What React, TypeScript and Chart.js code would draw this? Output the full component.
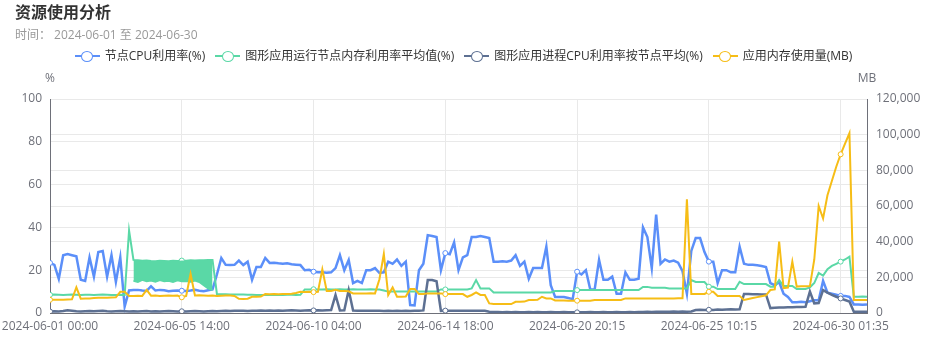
import React, { useEffect, useRef } from 'react';
import { Chart, registerables } from 'chart.js';

Chart.register(...registerables);

const tickLabels = [
  '2024-06-01 00:00',
  '2024-06-05 14:00',
  '2024-06-10 04:00',
  '2024-06-14 18:00',
  '2024-06-20 20:15',
  '2024-06-25 10:15',
  '2024-06-30 01:35',
];
const tickEvery = 30;

const seriesNames = [
  '节点CPU利用率(%)',
  '图形应用运行节点内存利用率平均值(%)',
  '图形应用进程CPU利用率按节点平均(%)',
  '应用内存使用量(MB)',
];

// 节点CPU利用率(%)
const cpuNode = [
  23.4, 22.5, 16, 27, 27.5, 27, 26.5, 15.5, 15, 26,
  17, 28.5, 29, 17, 27, 14.5, 26, 3, 10.5, 10.7,
  10.8, 10.5, 10.3, 12.5, 10.5, 10.8, 10.6, 10.2, 10.4, 10.5,
  10.4, 10.3, 10.5, 10.8, 10.4, 10.2, 10.6, 11, 18, 25.7,
  22.5, 22.4, 22.5, 24.5, 22.4, 24, 15.5, 21.5, 21.5, 25.7,
  23.4, 23.5, 23.2, 23, 23.2, 22.8, 22.6, 22.4, 20, 20.2,
  19.3, 19, 19, 18.8, 19, 21, 27, 20, 24.8, 14,
  15, 14, 20, 20, 21, 18.7, 19, 24, 23, 25,
  22, 24, 3.7, 3.5, 20, 23, 36.4, 36, 35.5, 20,
  28, 27.5, 33, 20, 26, 27, 35.5, 35.5, 36, 35.5,
  35, 24, 24, 24.2, 24, 24.5, 27, 22, 24, 16,
  21, 21, 21, 31, 13, 7.5, 7.5, 7.5, 7, 6.5,
  19.3, 18, 20, 11, 11, 24.8, 15.5, 15.5, 17, 9,
  9, 19, 15.5, 15.5, 16, 40, 35.5, 21, 46, 23,
  25, 24, 24.5, 23.5, 19.5, 9, 29, 35, 35, 28.5,
  24, 24, 14, 20, 20, 19, 19, 31, 23, 22.5,
  22.5, 22.3, 22, 21.5, 14, 13, 14.5, 9, 7.5, 5,
  5, 5.2, 5, 5.5, 6, 6, 15, 9.5, 9, 8.5,
  8, 8, 7.5, 4, 4, 3.8, 4,
];

// 图形应用运行节点内存利用率平均值(%) — upper trace of the series
const memNodeAvg = [
  8.5, 8.6, 8.5, 8.4, 8.5, 8.6, 8.5, 8.4, 8.5, 8.5,
  8.4, 8.5, 8.6, 8.5, 8.4, 8.4, 8.5, 8.4, 38.5, 24.8,
  24.6, 24.4, 24.5, 24.3, 24.2, 24.4, 24.3, 24.2, 24.4, 24.3,
  24.5, 24.4, 24.6, 24.5, 24.6, 24.7, 24.8, 24.8, 8.9, 8.8,
  8.8, 8.7, 8.7, 8.6, 8.6, 8.5, 8.5, 8.4, 8.4, 8.4,
  8.4, 8.5, 8.4, 8.4, 8.5, 8.5, 8.4, 8.5, 11, 11,
  11.1, 11, 11, 11.1, 11, 11, 11.1, 11, 11, 11.1,
  11, 11, 11, 11.1, 11, 11, 10.5, 10, 10, 10,
  10, 10, 10, 10, 10.1, 10, 10, 10, 10, 11,
  11, 11, 11, 11, 11, 11, 11.5, 15.4, 11.5, 11.5,
  11.5, 9.6, 9.6, 9.6, 9.6, 9.6, 9.6, 9.6, 9.6, 9.6,
  9.6, 9.6, 9.6, 9.6, 9.6, 10.3, 10.3, 10.3, 10.3, 10.3,
  10.7, 10.7, 10.7, 10.7, 10.7, 10.7, 10.7, 10.7, 10.7, 10.7,
  10.7, 10.7, 10.7, 10.7, 10.7, 12.2, 12.2, 11.8, 11.8, 11.8,
  11.8, 11.5, 11.5, 11.5, 11.5, 11.5, 15.4, 14.5, 14.5, 14.5,
  12.3, 12.3, 11.2, 11.2, 11.2, 11.2, 11.2, 14.6, 13.5, 13.5,
  13.5, 13.5, 13.5, 13.5, 12.3, 12.3, 15.4, 12.6, 12.6, 12.6,
  11.2, 11.2, 11.2, 12, 14, 18.7, 17.5, 20.5, 22, 23,
  24, 25, 26.3, 7.6, 7.6, 7.7, 7.6,
];

// lower trace of the same series where it oscillates densely (06-03 to 06-06)
const memNodeAvgLow = [
  null, null, null, null, null, null, null, null, null, null,
  null, null, null, null, null, null, null, null, null, 15,
  14.5, 15.5, 14.8, 15.2, 14.6, 15.4, 14.9, 15.1, 14.5, 15.3,
  14.8, 15, 14.6, 15.2, 14.5, 13, 11.5, 10.7, null, null,
];

// 图形应用进程CPU利用率按节点平均(%)
const cpuApp = [
  0.7, 0.8, 0.7, 0.9, 1.3, 1.1, 0.8, 0.7, 0.8, 0.9,
  0.8, 0.9, 1.0, 0.8, 0.7, 0.8, 0.9, 0.8, 0.7, 0.8,
  0.7, 0.8, 0.9, 0.7, 0.8, 0.7, 0.8, 0.9, 0.8, 0.7,
  0.8, 0.7, 0.8, 0.9, 0.8, 0.7, 0.8, 0.9, 0.8, 0.9,
  1.0, 0.9, 1.0, 1.1, 1.0, 0.9, 1.0, 1.1, 1.2, 1.1,
  1.2, 1.1, 1.2, 1.1, 1.2, 1.3, 1.2, 1.1, 1.2, 1.3,
  1.2, 1.3, 1.2, 1.3, 1.4, 8.4, 1.2, 1.3, 10.7, 1.2,
  1.1, 1.0, 1.1, 1.0, 1.1, 1.0, 0.9, 1.0, 0.9, 1.0,
  0.9, 1.0, 0.9, 1.0, 1.0, 1.2, 15.4, 15.4, 14.8, 1.0,
  1.1, 1.0, 1.1, 1.0, 1.1, 1.0, 1.1, 1.0, 1.0, 1.0,
  0.6, 0.5, 0.5, 0.4, 0.5, 0.4, 0.5, 0.4, 0.4, 0.5,
  0.4, 0.5, 0.4, 0.4, 0.5, 0.4, 0.4, 0.5, 0.4, 0.4,
  0.3, 0.4, 0.4, 0.5, 0.4, 0.4, 0.5, 0.4, 0.4, 0.5,
  0.4, 0.4, 0.5, 0.4, 0.5, 0.5, 0.6, 0.5, 0.6, 0.6,
  0.6, 0.6, 0.7, 0.6, 0.7, 0.6, 0.7, 1.4, 1.5, 1.4,
  1.5, 1.4, 1.6, 1.5, 1.6, 1.7, 1.6, 1.7, 8.9, 8.9,
  8.8, 8.8, 8.7, 8.7, 2.3, 2.5, 2.6, 2.6, 2.7, 2.7,
  2.8, 2.8, 2.9, 10, 4.5, 4.6, 10.7, 9.5, 8.5, 7.6,
  6.8, 6.1, 5.4, 0.6, 0.6, 0.6, 0.6,
];

// 应用内存使用量(MB)
const memApp = [
  7400, 7400, 7500, 7500, 7600, 7700, 14400, 8000, 8100, 8200,
  8400, 8600, 8500, 8600, 8700, 8800, 11900, 11900, 9500, 9600,
  9700, 9600, 12900, 9700, 9800, 9600, 9700, 9800, 9700, 9800,
  8800, 9500, 21900, 9800, 9900, 9800, 9700, 9800, 9500, 9700,
  9800, 9800, 9600, 8000, 7800, 8000, 9100, 9100, 9200, 10600,
  10500, 10600, 10500, 10600, 10600, 10800, 11200, 11900, 11800, 11900,
  11700, 11900, 24500, 12300, 12300, 13000, 12300, 12300, 12200, 11000,
  11000, 11000, 11000, 11100, 11000, 18900, 33100, 10100, 14400, 9100,
  9100, 9200, 13500, 13500, 10600, 10600, 11000, 11000, 11000, 11000,
  10600, 10600, 10600, 10600, 10600, 9100, 10100, 11500, 10100, 10100,
  5400, 5000, 5000, 5000, 5100, 5000, 6300, 6300, 6400, 7300,
  7300, 7400, 9100, 8200, 8200, 7000, 7000, 7000, 6900, 6900,
  6900, 6900, 6900, 6900, 7300, 7300, 7300, 7300, 7300, 7300,
  7300, 8200, 8200, 8200, 8200, 8200, 8200, 8200, 8200, 8200,
  8200, 8200, 8200, 8300, 8300, 63700, 10600, 10600, 10700, 10700,
  11900, 11900, 9500, 9500, 9500, 9500, 9500, 9500, 7300, 7900,
  8400, 8900, 9400, 9900, 12900, 13200, 40000, 14000, 14300, 28800,
  14800, 15000, 15000, 15100, 30000, 60000, 53000, 66000, 74000, 82000,
  89000, 95000, 100800, 7300, 7300, 7300, 7300,
];

const COLORS = ['#5B8FF9', '#5AD8A6', '#5D7092', '#F6BD16'];
const FONT = '"Open Sans", "Noto Sans CJK SC", sans-serif';
const AXIS_COLOR = '#6E7079';
const GRID_COLOR = '#E9E9E9';
const LABEL_COLOR = '#6E7079';

function LegendIcon({ color }: { color: string }) {
  return (
    <span style={{ position: 'relative', display: 'inline-block', width: 25, height: 14, marginRight: 5 }}>
      <span style={{ position: 'absolute', left: 0, top: 6, width: 25, height: 2, background: color }} />
      <span
        style={{
          position: 'absolute', left: 6.5, top: 1.5, width: 12, height: 11, boxSizing: 'border-box',
          border: `1.5px solid ${color}`, borderRadius: '50%', background: '#fff',
        }}
      />
    </span>
  );
}

export default function App() {
  const ref = useRef<HTMLCanvasElement>(null);

  useEffect(() => {
    if (!ref.current) return;
    const labels = cpuNode.map((_, i) => i);
    const lastIndex = cpuNode.length - 1;
    const mk = (label: string, data: (number | null)[], color: string, axis: string, order: number, width: number) => ({
      label,
      data,
      borderColor: color,
      backgroundColor: color,
      yAxisID: axis,
      order,
      borderWidth: width,
      tension: 0,
      fill: false,
      pointRadius: (c: any) => (c.dataIndex % tickEvery === 0 ? 2.5 : 0),
      pointBackgroundColor: '#fff',
      pointBorderColor: color,
      pointBorderWidth: 1,
    });
    const bandLow = {
      ...mk(seriesNames[1], memNodeAvgLow, COLORS[1], 'y', 3, 2),
      pointRadius: 0,
      fill: { target: 1 },
      backgroundColor: COLORS[1],
    };
    const tickFont = { size: 12, family: FONT };
    const chart = new Chart(ref.current, {
      type: 'line',
      data: {
        labels,
        datasets: [
          mk(seriesNames[0], cpuNode, COLORS[0], 'y', 5, 2.5),
          mk(seriesNames[1], memNodeAvg, COLORS[1], 'y', 4, 2),
          bandLow,
          mk(seriesNames[2], cpuApp, COLORS[2], 'y', 2, 2.5),
          mk(seriesNames[3], memApp, COLORS[3], 'y1', 1, 2),
        ] as any,
      },
      options: {
        responsive: false,
        animation: false,
        events: [],
        layout: { padding: { top: 99, left: 0, right: 0, bottom: 0 } },
        plugins: {
          legend: { display: false },
          title: { display: false },
          tooltip: { enabled: false },
          filler: { propagate: false },
        },
        scales: {
          x: {
            type: 'linear',
            min: 0,
            max: lastIndex,
            afterBuildTicks: (s: any) => {
              s.ticks = tickLabels.map((_, k) => ({ value: k * tickEvery }));
            },
            afterFit: (s: any) => {
              s.height = 43;
              s.paddingLeft = 0;
              s.paddingRight = 0;
            },
            ticks: {
              autoSkip: false,
              maxRotation: 0,
              minRotation: 0,
              padding: 6,
              color: LABEL_COLOR,
              font: tickFont,
              callback: (v: any) => tickLabels[Math.round(Number(v) / tickEvery)] ?? '',
            },
            grid: { color: GRID_COLOR, drawTicks: false },
            border: { display: true, color: AXIS_COLOR, width: 1 },
          },
          y: {
            type: 'linear',
            position: 'left',
            min: 0,
            max: 100,
            afterFit: (s: any) => {
              s.width = 50;
            },
            ticks: { stepSize: 20, padding: 8, color: LABEL_COLOR, font: tickFont },
            grid: { color: GRID_COLOR, drawTicks: false },
            border: { display: true, color: AXIS_COLOR, width: 1 },
          },
          y1: {
            type: 'linear',
            position: 'right',
            min: 0,
            max: 120000,
            afterFit: (s: any) => {
              s.width = 60;
            },
            ticks: {
              stepSize: 20000,
              padding: 9,
              color: LABEL_COLOR,
              font: tickFont,
              callback: (v: any) => Number(v).toLocaleString('en-US'),
            },
            grid: { color: GRID_COLOR, drawTicks: false },
            border: { display: true, color: AXIS_COLOR, width: 1 },
          },
        },
      } as any,
    });
    return () => chart.destroy();
  }, []);

  return (
    <div style={{ position: 'fixed', left: 0, top: 0, width: 927, height: 356, background: '#fff', fontFamily: FONT, overflow: 'hidden' }}>
      <canvas ref={ref} width={927} height={356} style={{ position: 'absolute', left: 0, top: 0 }} />
      <div style={{ position: 'absolute', left: 15, top: 1, fontSize: 16, fontWeight: 'bold', color: '#333', lineHeight: '22px', whiteSpace: 'nowrap' }}>
        资源使用分析
      </div>
      <div style={{ position: 'absolute', left: 15, top: 27, fontSize: 12, color: '#999', lineHeight: '16px', whiteSpace: 'pre' }}>
        时间： 2024-06-01 至 2024-06-30
      </div>
      <div
        style={{
          position: 'absolute', left: 0, top: 49, width: 927, height: 14, display: 'flex',
          justifyContent: 'center', alignItems: 'center', fontSize: 12, lineHeight: '14px', color: '#333', whiteSpace: 'nowrap',
        }}
      >
        {seriesNames.map((name, k) => (
          <span key={name} style={{ display: 'inline-flex', alignItems: 'center', marginLeft: k === 0 ? 0 : 10 }}>
            <LegendIcon color={COLORS[k]} />
            <span>{name}</span>
          </span>
        ))}
      </div>
      <div style={{ position: 'absolute', left: 30, width: 40, textAlign: 'center', top: 71, fontSize: 12, lineHeight: '14px', color: LABEL_COLOR }}>%</div>
      <div style={{ position: 'absolute', left: 847, width: 40, textAlign: 'center', top: 71, fontSize: 12, lineHeight: '14px', color: LABEL_COLOR }}>MB</div>
    </div>
  );
}
